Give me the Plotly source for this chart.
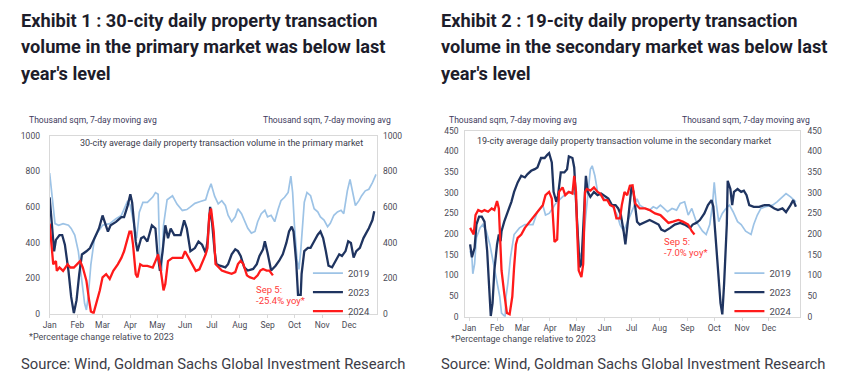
import plotly.graph_objects as go

# ---------------- data (day of year, 7-day moving avg, thousand sqm) ----------------
MONTHS = ["Jan", "Feb", "Mar", "Apr", "May", "Jun", "Jul", "Aug", "Sep", "Oct", "Nov", "Dec"]
MONTH_START = [0, 31, 59, 90, 120, 151, 181, 212, 243, 273, 304, 334]

# Exhibit 1: primary market (30 cities)
p2019_day = [0, 3, 6, 10, 15, 21, 24, 28, 32, 35, 39, 41, 43, 46, 50, 54, 59, 67, 74, 80, 83, 87, 90, 94, 97,
             100, 104, 109, 115, 118, 121, 123, 125, 127, 131, 137, 142, 148, 153, 157, 162, 168, 174, 177, 180,
             184, 188, 192, 196, 199, 203, 207, 210, 214, 218, 221, 225, 229, 232, 236, 240, 243, 247, 251, 255,
             258, 262, 266, 269, 271, 273, 276, 278, 280, 284, 287, 291, 295, 299, 302, 306, 310, 313, 317, 321,
             325, 328, 332, 335, 338, 341, 345, 348, 352, 356, 360, 364]
p2019_val = [790, 643, 506, 497, 506, 497, 479, 442, 351, 223, 58, 22, 95, 278, 424, 461, 497, 506, 534, 552, 589,
             634, 607, 497, 424, 570, 625, 625, 655, 680, 671, 278, 241, 497, 640, 662, 616, 580, 585, 600, 620,
             630, 640, 690, 730, 660, 617, 635, 608, 553, 517, 544, 590, 562, 517, 480, 453, 462, 517, 562, 581,
             544, 553, 517, 590, 635, 654, 681, 772, 681, 498, 300, 250, 352, 626, 681, 663, 590, 572, 544, 526,
             489, 508, 553, 572, 581, 562, 690, 754, 681, 608, 635, 663, 690, 699, 736, 782]

p2023_day = [0, 2, 5, 7, 11, 14, 17, 21, 24, 27, 30, 33, 36, 41, 45, 50, 55, 59, 61, 65, 68, 74, 80, 83, 87, 90,
             92, 96, 98, 102, 105, 109, 114, 118, 120, 123, 126, 129, 132, 135, 139, 142, 146, 150, 153, 157, 162,
             166, 170, 174, 176, 179, 181, 184, 186, 190, 196, 199, 203, 207, 210, 213, 217, 221, 227, 231, 234,
             238, 240, 243, 247, 252, 256, 260, 264, 267, 270, 272, 275, 277, 280, 281, 284, 288, 291, 295, 299,
             302, 305, 308, 311, 315, 319, 323, 326, 330, 333, 336, 339, 342, 346, 350, 353, 356, 360, 362]
p2023_val = [653, 534, 351, 415, 442, 442, 388, 241, 95, 4, 77, 223, 333, 351, 369, 424, 479, 552, 525, 461, 497,
             516, 543, 543, 607, 671, 625, 406, 351, 424, 433, 406, 497, 479, 351, 241, 351, 497, 424, 479, 442,
             442, 442, 525, 479, 351, 369, 406, 388, 342, 406, 600, 520, 352, 279, 270, 261, 279, 334, 362, 352,
             325, 261, 243, 252, 279, 325, 362, 407, 343, 243, 270, 298, 334, 398, 462, 489, 462, 289, 106, 106,
             225, 352, 370, 370, 407, 444, 462, 425, 352, 270, 261, 298, 334, 325, 352, 407, 398, 316, 352, 370,
             425, 453, 480, 526, 575]

p2024_day = [0, 2, 4, 7, 8, 11, 15, 20, 23, 27, 31, 34, 37, 41, 44, 46, 49, 52, 56, 59, 63, 67, 71, 76, 80, 83,
             86, 89, 91, 93, 96, 98, 101, 104, 109, 115, 118, 121, 124, 127, 129, 132, 137, 142, 148, 151, 155,
             159, 163, 167, 171, 174, 176, 178, 180, 183, 185, 188, 192, 197, 203, 207, 210, 213, 216, 220, 223,
             228, 232, 235, 238, 242, 245, 249]
p2024_val = [506, 406, 278, 296, 241, 260, 241, 278, 260, 260, 278, 296, 260, 186, 77, 13, 4, 58, 132, 205, 223,
             196, 241, 278, 314, 351, 406, 461, 461, 388, 223, 205, 278, 269, 269, 260, 296, 333, 241, 132, 168,
             296, 314, 314, 314, 351, 314, 278, 241, 250, 296, 333, 369, 553, 590, 462, 279, 261, 243, 234, 225,
             234, 279, 298, 279, 216, 206, 197, 216, 243, 252, 243, 243, 216]

# Exhibit 2: secondary market (19 cities)
s2019_day = [1, 3, 4, 6, 8, 12, 15, 19, 23, 27, 30, 34, 36, 40, 41, 43, 46, 50, 56, 62, 67, 71, 76, 82, 85, 89,
             93, 95, 98, 102, 106, 110, 115, 119, 121, 123, 126, 130, 133, 135, 137, 140, 143, 146, 150, 154, 157,
             161, 165, 168, 172, 176, 179, 183, 187, 190, 196, 201, 205, 209, 213, 217, 221, 226, 231, 235, 240,
             244, 248, 253, 257, 260, 264, 268, 271, 273, 275, 278, 282, 286, 290, 294, 299, 303, 308, 314, 317,
             321, 325, 330, 338, 343, 349, 353, 358, 362, 364]
s2019_val = [159, 144, 104, 128, 191, 215, 223, 207, 175, 128, 96, 49, 9, 0, 49, 80, 144, 199, 215, 223, 223, 223,
             254, 270, 246, 250, 262, 270, 278, 286, 294, 302, 302, 294, 199, 144, 159, 254, 325, 357, 365, 341,
             302, 294, 286, 282, 274, 262, 246, 223, 207, 227, 246, 262, 285, 270, 262, 258, 266, 262, 270, 262,
             254, 262, 258, 274, 278, 246, 262, 230, 215, 207, 199, 223, 270, 325, 278, 230, 250, 262, 270, 254,
             230, 223, 207, 199, 223, 246, 262, 266, 270, 278, 290, 298, 290, 282, 278]

s2023_day = [1, 3, 6, 8, 11, 14, 17, 20, 22, 24, 26, 28, 31, 33, 35, 36, 39, 43, 47, 50, 54, 58, 62, 65, 69, 73,
             76, 80, 84, 87, 89, 92, 94, 97, 99, 102, 106, 109, 111, 115, 117, 120, 122, 123, 125, 127, 130, 132,
             135, 139, 143, 147, 152, 155, 159, 163, 166, 169, 172, 174, 176, 179, 181, 183, 187, 190, 196, 201,
             205, 211, 214, 218, 224, 229, 235, 240, 246, 249, 253, 257, 262, 266, 270, 272, 274, 277, 280, 282,
             284, 287, 288, 291, 293, 295, 299, 303, 306, 309, 312, 317, 323, 329, 334, 340, 344, 349, 353, 358,
             361, 364]
s2023_val = [175, 144, 167, 223, 242, 242, 230, 159, 80, 2, 33, 112, 175, 199, 183, 207, 230, 254, 278, 302, 325,
             341, 337, 345, 353, 357, 361, 384, 384, 392, 396, 373, 302, 278, 294, 349, 349, 357, 388, 384, 361,
             238, 144, 120, 128, 223, 341, 302, 290, 302, 294, 298, 290, 286, 270, 270, 262, 246, 207, 175, 215,
             270, 317, 302, 230, 223, 230, 234, 230, 223, 211, 207, 215, 223, 227, 223, 215, 223, 227, 234, 250,
             270, 282, 266, 207, 128, 33, 6, 80, 223, 329, 309, 270, 302, 309, 302, 305, 294, 270, 266, 266, 270,
             270, 262, 258, 262, 253, 270, 282, 266]

s2024_day = [1, 3, 5, 7, 10, 14, 17, 21, 25, 28, 31, 33, 34, 36, 39, 42, 45, 48, 50, 52, 54, 58, 62, 65, 71, 76,
             82, 85, 89, 92, 94, 95, 98, 100, 104, 107, 111, 115, 117, 119, 120, 122, 125, 127, 129, 131, 135, 139,
             143, 146, 150, 154, 157, 161, 164, 168, 170, 173, 176, 179, 182, 185, 190, 196, 201, 207, 213, 218,
             222, 227, 233, 238, 244, 248, 251]
s2024_val = [215, 207, 199, 246, 258, 254, 258, 254, 262, 258, 280, 262, 199, 112, 57, 9, 6, 49, 120, 175, 191,
             199, 215, 223, 238, 254, 270, 294, 302, 286, 230, 181, 187, 302, 313, 294, 302, 298, 341, 302, 223,
             112, 96, 128, 302, 309, 305, 313, 302, 298, 282, 282, 270, 266, 238, 238, 270, 302, 294, 317, 318,
             274, 262, 262, 258, 250, 246, 234, 227, 230, 234, 230, 223, 207, 199]

SERIES_NAMES = ["2019", "2023", "2024"]
LEFT_TITLE = ["Exhibit 1 : 30-city daily property transaction",
              "volume in the primary market was below last",
              "year's level"]
RIGHT_TITLE = ["Exhibit 2 : 19-city daily property transaction",
               "volume in the secondary market was below last",
               "year's level"]
LEFT_INNER = "30-city average daily property transaction volume in the primary market"
RIGHT_INNER = "19-city average daily property transaction volume in the secondary market"
UNIT = "Thousand sqm, 7-day moving avg"
FOOTNOTE = "*Percentage change relative to 2023"
SOURCE = "Source: Wind, Goldman Sachs Global Investment Research"
LEFT_NOTE = ["Sep 5:", "-25.4% yoy*"]
RIGHT_NOTE = ["Sep 5:", "-7.0% yoy*"]

# ---------------- styling ----------------
W, H = 848, 390
COLORS = {"2019": "#9dc3e6", "2023": "#1f3460", "2024": "#ff1a1a"}
WIDTHS = {"2019": 1.7, "2023": 2.3, "2024": 2.3}
FONT = "Roboto, Arial, sans-serif"
TICKFONT = dict(family=FONT, size=8.5, color="#4a4a55")
AXCOLOR = "#d9d9d9"


def px(x):
    return x / W


def py(y):
    return 1 - y / H


fig = go.Figure()

left = [(p2019_day, p2019_val), (p2023_day, p2023_val), (p2024_day, p2024_val)]
right = [(s2019_day, s2019_val), (s2023_day, s2023_val), (s2024_day, s2024_val)]

for name, (d, v) in zip(SERIES_NAMES, left):
    fig.add_trace(go.Scatter(x=d, y=v, mode="lines", name=name, xaxis="x", yaxis="y",
                             line=dict(color=COLORS[name], width=WIDTHS[name]),
                             legend="legend", hoverinfo="skip"))
for name, (d, v) in zip(SERIES_NAMES, right):
    fig.add_trace(go.Scatter(x=d, y=v, mode="lines", name=name, xaxis="x2", yaxis="y3",
                             line=dict(color=COLORS[name], width=WIDTHS[name]),
                             legend="legend2", hoverinfo="skip"))
# anchors for the right-hand value axes
fig.add_trace(go.Scatter(x=[None], y=[None], xaxis="x", yaxis="y2", showlegend=False, hoverinfo="skip"))
fig.add_trace(go.Scatter(x=[None], y=[None], xaxis="x2", yaxis="y4", showlegend=False, hoverinfo="skip"))

xcommon = dict(tickvals=MONTH_START, ticktext=MONTHS, showline=True, linecolor=AXCOLOR, linewidth=1,
               mirror=True, ticks="outside", ticklen=3, tickcolor=AXCOLOR, showgrid=False, zeroline=False,
               tickfont=TICKFONT, fixedrange=True)
ycommon = dict(showgrid=False, zeroline=False, tickfont=TICKFONT, ticks="", fixedrange=True)

fig.update_layout(
    width=W, height=H, autosize=False,
    margin=dict(l=0, r=0, t=0, b=0),
    paper_bgcolor="white", plot_bgcolor="white",
    xaxis=dict(domain=[px(43), px(373)], range=[0, 365], anchor="y", **xcommon),
    yaxis=dict(domain=[py(317), py(134)], range=[0, 1000], dtick=200, anchor="x",
               showline=True, linecolor=AXCOLOR, mirror=True, ticklabelstandoff=7, **ycommon),
    yaxis2=dict(range=[0, 1000], dtick=200, overlaying="y", side="right", anchor="x",
                showline=False, ticklabelstandoff=5, **ycommon),
    xaxis2=dict(domain=[px(462), px(800)], range=[-4.5, 369], anchor="y3", **xcommon),
    yaxis3=dict(domain=[py(320), py(129)], range=[0, 450], dtick=50, anchor="x2",
                showline=True, linecolor=AXCOLOR, mirror=True, ticklabelstandoff=4, **ycommon),
    yaxis4=dict(range=[0, 450], dtick=50, overlaying="y3", side="right", anchor="x2",
                showline=False, ticklabelstandoff=6, **ycommon),
    legend=dict(x=px(372), xanchor="right", y=py(329), yanchor="bottom", bgcolor="rgba(0,0,0,0)",
                font=dict(family=FONT, size=9.5, color="#4a4a55"), tracegroupgap=0, itemwidth=30,
                itemclick=False, itemdoubleclick=False),
    legend2=dict(x=px(797), xanchor="right", y=py(329), yanchor="bottom", bgcolor="rgba(0,0,0,0)",
                 font=dict(family=FONT, size=9.5, color="#4a4a55"), tracegroupgap=0, itemwidth=30,
                 itemclick=False, itemdoubleclick=False),
    showlegend=True,
)

ann = []


def text(x, y, s, size, color, anchor="left", bold=False, family=FONT):
    ann.append(dict(x=px(x), y=py(y), xref="paper", yref="paper", text=("<b>%s</b>" % s) if bold else s,
                    showarrow=False, xanchor=anchor, yanchor="middle",
                    font=dict(family=family, size=size, color=color)))


# titles
for i, line in enumerate(LEFT_TITLE):
    text(12, 16 + i * 27, line, 18.2, "#1d1d2b", bold=True)
for i, line in enumerate(RIGHT_TITLE):
    text(436, 16 + i * 27, line, 18.2, "#1d1d2b", bold=True)

# unit labels
text(20, 118, UNIT, 8.6, "#3d3a5c")
text(389, 118, UNIT, 8.6, "#3d3a5c", anchor="right")
text(444, 118, UNIT, 8.6, "#3d3a5c")
text(812, 118, UNIT, 8.6, "#3d3a5c", anchor="right")

# inner titles
text(216, 142, LEFT_INNER, 9, "#3a3a4a", anchor="center")
text(622, 140, RIGHT_INNER, 9, "#3a3a4a", anchor="center")

# notes
text(249, 292, LEFT_NOTE[0], 9.5, "#ff3b3b")
text(249, 303, LEFT_NOTE[1], 9.5, "#ff3b3b")
text(660, 243, RIGHT_NOTE[0], 9.5, "#ff3b3b")
text(660, 254, RIGHT_NOTE[1], 9.5, "#ff3b3b")

# footnotes
text(20, 341, FOOTNOTE, 9, "#4a4a55")
text(446, 343, FOOTNOTE, 9, "#4a4a55")

# sources
text(12, 368, SOURCE, 14.8, "#3c3c46")
text(436, 368, SOURCE, 14.8, "#3c3c46")

fig.update_layout(annotations=ann)

fig.write_html("out.html", config={"displayModeBar": False},
               post_script="document.body.style.margin='0';")
